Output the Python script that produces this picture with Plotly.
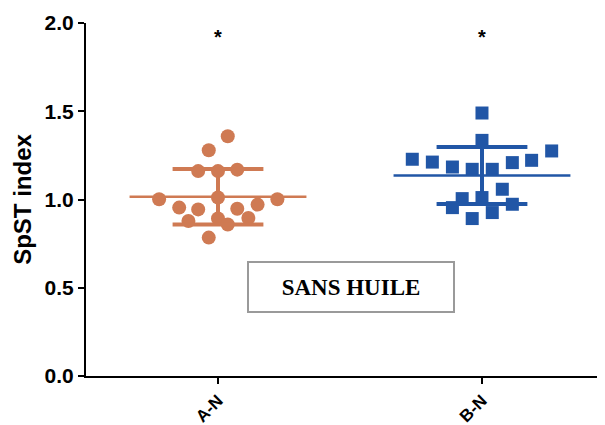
import numpy as np
import plotly.graph_objects as go

# ─── Données ───────────────────────────────────────────────────────────────────
CATEGORIES = ["A-N", "B-N"]

A_N_VALUES = [1.358, 1.279, 1.161, 1.161, 1.169, 1.001, 1.011, 1.001, 0.954,
              0.944, 0.948, 0.971, 0.878, 0.892, 0.858, 0.895, 0.784]
A_N_JITTER = [0.037, -0.035, -0.075, 0.0, 0.073, -0.223, 0.0, 0.225, -0.147,
              -0.075, 0.073, 0.150, -0.112, 0.0, 0.037, 0.115, -0.035]

B_N_VALUES = [1.490, 1.335, 1.228, 1.212, 1.184, 1.171, 1.171, 1.209, 1.222,
              1.275, 1.058, 1.005, 1.011, 0.954, 0.926, 0.973, 0.892]
B_N_JITTER = [0.0, 0.0, -0.264, -0.188, -0.112, -0.037, 0.039, 0.115, 0.188,
              0.264, 0.077, -0.075, 0.0, -0.112, 0.039, 0.115, -0.037]

STAR_LEVEL = 1.92

ORANGE = "#CF7A53"
BLUE = "#2156A6"
FONT = "Liberation Sans, Arial, sans-serif"

fig = go.Figure()

groups = [
    (0, A_N_VALUES, A_N_JITTER, ORANGE, "circle"),
    (1, B_N_VALUES, B_N_JITTER, BLUE, "square"),
]

for pos, vals, jit, color, symbol in groups:
    v = np.array(vals)
    mean, sd = v.mean(), v.std(ddof=1)

    # points
    fig.add_trace(go.Scatter(
        x=[pos + j for j in jit], y=vals, mode="markers",
        marker=dict(symbol=symbol, size=14 if symbol == "circle" else 13,
                    color=color, line=dict(width=0)),
        showlegend=False, hoverinfo="y",
    ))
    # ligne moyenne
    fig.add_trace(go.Scatter(
        x=[pos - 0.335, pos + 0.335], y=[mean, mean], mode="lines",
        line=dict(color=color, width=2.5), showlegend=False, hoverinfo="skip",
    ))
    # moyenne ± écart-type
    fig.add_trace(go.Scatter(
        x=[pos, pos, None, pos - 0.172, pos + 0.172, None, pos - 0.172, pos + 0.172],
        y=[mean - sd, mean + sd, None, mean + sd, mean + sd, None, mean - sd, mean - sd],
        mode="lines", line=dict(color=color, width=4),
        showlegend=False, hoverinfo="skip",
    ))
    fig.add_annotation(
        x=pos, y=STAR_LEVEL, xref="x", yref="y", text="<b>*</b>",
        showarrow=False, font=dict(family=FONT, size=20, color="black"),
    )

fig.add_annotation(
    x=0.511, y=0.178, xref="paper", yref="paper", text="<b>SANS HUILE</b>",
    showarrow=False, font=dict(family="Liberation Serif, Times New Roman, serif",
                               size=23, color="black"),
    bordercolor="#9A9A9A", borderwidth=2, width=202, height=46,
    bgcolor="white",
)

fig.update_layout(
    width=597, height=417,
    paper_bgcolor="white", plot_bgcolor="white",
    margin=dict(l=78, r=0, t=15, b=49, autoexpand=False),
    font=dict(family=FONT, color="black"),
    xaxis=dict(
        range=[-0.5, 1.466], tickvals=[0, 1], ticktext=CATEGORIES,
        tickangle=-45, ticks="outside", ticklen=6, tickwidth=2, tickcolor="black",
        showline=True, linecolor="black", linewidth=2, showgrid=False, zeroline=False,
        tickfont=dict(family=FONT, size=17, color="black", weight="bold"),
    ),
    yaxis=dict(
        range=[0, 2.0], tickvals=[0, 0.5, 1.0, 1.5, 2.0],
        ticktext=["0.0", "0.5", "1.0", "1.5", "2.0"],
        ticks="outside", ticklen=6, tickwidth=2, tickcolor="black",
        showline=True, linecolor="black", linewidth=2, showgrid=False, zeroline=False,
        tickfont=dict(family=FONT, size=21, color="black", weight="bold"),
        title=dict(text="<b>SpST index</b>", font=dict(family=FONT, size=24), standoff=6),
    ),
)

fig.write_html("out.html")
